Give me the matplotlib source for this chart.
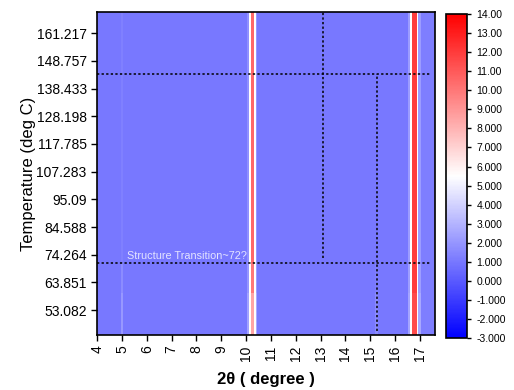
import numpy as np
import matplotlib
matplotlib.use('Agg')
import matplotlib.pyplot as plt
from matplotlib.colors import LinearSegmentedColormap

plt.rcParams['font.family'] = ['Liberation Sans', 'DejaVu Sans']

# Temperature tick labels (one per labelled row, bottom to top)
temp_labels = ['53.082', '63.851', '74.264', '84.588', '95.09', '107.283',
               '117.785', '128.198', '138.433', '148.757', '161.217']
temp_values = [53.082, 63.851, 74.264, 84.588, 95.09, 107.283,
               117.785, 128.198, 138.433, 148.757, 161.217]
tick_rows = [0.9, 1.9, 2.9, 3.9, 4.9, 5.9, 6.9, 7.9, 8.9, 9.9, 10.9]

# 2theta bin edges (degree) and intensity per bin
tt_edges = [4.0, 4.95, 5.05, 10.05, 10.13, 10.2, 10.32, 10.38, 10.45,
            15.18, 15.32, 16.52, 16.6, 16.68, 16.87, 16.92, 17.05, 17.6]
# intensity in the upper rows (above ~72 C)
vals_high = [1.0, 1.3, 1.0, 1.8, 5.5, 10.5, 5.5, 2.0, 1.0,
             1.0, 1.0, 2.2, 5.5, 12.0, 5.5, 2.2, 1.2]
# intensity in the middle band
vals_mid = [1.0, 1.7, 1.0, 2.0, 5.5, 10.0, 5.5, 2.2, 1.0,
            1.2, 1.0, 2.3, 5.5, 12.0, 5.5, 2.3, 1.2]
# intensity in the lowest rows
vals_low = [1.0, 2.1, 1.0, 2.4, 5.6, 8.5, 5.6, 2.6, 1.0,
            1.6, 1.0, 2.5, 5.6, 11.5, 5.6, 2.6, 1.2]
row_edges = [0.0, 1.5, 2.6, 11.66]

# guide lines: temperatures of horizontal lines, (2theta, t_start, t_end) of vertical ones
h_line_temps = [144.0, 71.2]
v_lines = [(13.09, 73.0, 175.0), (15.28, 45.0, 144.0)]

# colour map: blue -> white -> red
cmap = LinearSegmentedColormap.from_list('bwr_o', ['#0000ff', '#ffffff', '#ff0000'])


def temp_to_row(t):
    # map temperature to row position, extending past the labelled range
    if t < temp_values[0]:
        return tick_rows[0] + (t - temp_values[0]) / 10.77
    if t > temp_values[-1]:
        return tick_rows[-1] + (t - temp_values[-1]) / 12.46
    return float(np.interp(t, temp_values, tick_rows))


fig = plt.figure(figsize=(5.14, 3.90), dpi=100)
ax = fig.add_axes([0.189, 0.141, 0.657, 0.828])
cax = fig.add_axes([0.868, 0.133, 0.041, 0.831])

grid = np.array([vals_low, vals_mid, vals_high])
mesh = ax.pcolormesh(tt_edges, row_edges, grid, cmap=cmap, vmin=-3, vmax=14)

ax.set_xlim(4, 17.6)
ax.set_ylim(row_edges[0], row_edges[-1])

dots = (0, (1.5, 1.5))
for t in h_line_temps:
    ax.axhline(temp_to_row(t), xmin=0, xmax=0.99, color='black', linestyle=dots, lw=1.1)
for x, t0, t1 in v_lines:
    ax.plot([x, x], [temp_to_row(t0), min(temp_to_row(t1), row_edges[-1])],
            color='black', linestyle=dots, lw=1.1)

ax.text(5.2, temp_to_row(71.2) + 0.08, 'Structure Transition~72?', color='#e4e4ff',
        fontsize=7.8, va='bottom', ha='left')

ax.set_xticks(range(4, 18))
ax.set_xticklabels([str(v) for v in range(4, 18)], rotation=90, fontsize=10)
ax.set_yticks(tick_rows)
ax.set_yticklabels(temp_labels, fontsize=10)
ax.tick_params(direction='out', length=4, width=1)
ax.set_xlabel('2θ ( degree )', fontsize=12, fontweight='bold', labelpad=8)
ax.set_ylabel('Temperature (deg C)', fontsize=12, labelpad=0)
for s in ax.spines.values():
    s.set_linewidth(1.2)

cb = fig.colorbar(mesh, cax=cax)
cb_ticks = list(range(-3, 15))
cb.set_ticks(cb_ticks)
cb.set_ticklabels(['%.2f' % v if abs(v) >= 10 else '%.3f' % v for v in cb_ticks])
cb.ax.tick_params(labelsize=7.5, length=3, width=1)
cb.outline.set_linewidth(1.2)

fig.savefig('out.png', dpi=100)
